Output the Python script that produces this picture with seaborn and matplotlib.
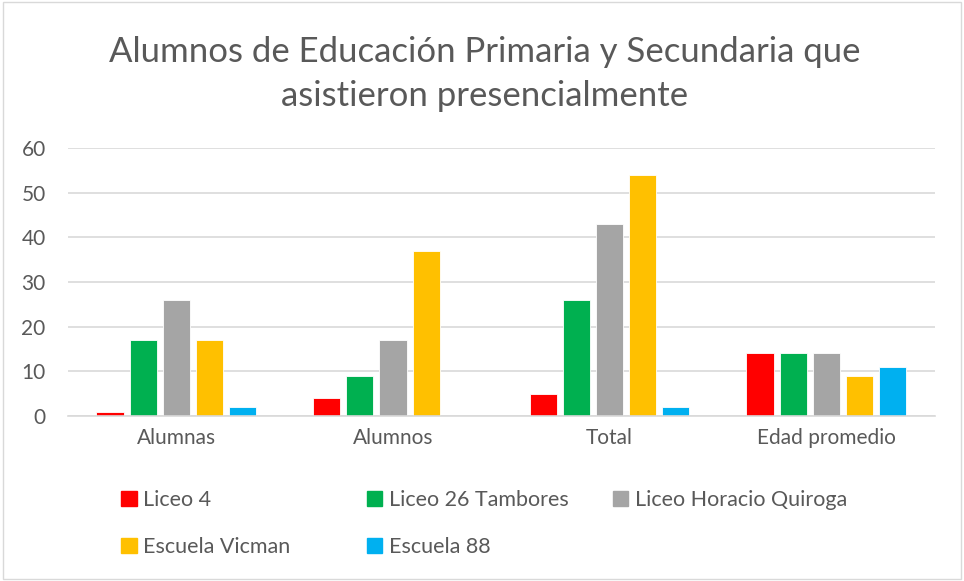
import pandas as pd
import matplotlib.pyplot as plt
import seaborn as sns
from matplotlib.patches import Rectangle

categorias = ['Alumnas', 'Alumnos', 'Total', 'Edad promedio']
escuelas = ['Liceo 4', 'Liceo 26 Tambores', 'Liceo Horacio Quiroga', 'Escuela Vicman', 'Escuela 88']
liceo_4 = [1, 4, 5, 14]
liceo_26 = [17, 9, 26, 14]
liceo_hq = [26, 17, 43, 14]
vicman = [17, 37, 54, 9]
escuela_88 = [2, 0, 2, 11]
colores = ['#ff0000', '#00b050', '#a5a5a5', '#ffc000', '#00b0f0']

series = [liceo_4, liceo_26, liceo_hq, vicman, escuela_88]
df = pd.DataFrame([
    {'categoria': c, 'escuela': e, 'valor': v}
    for e, vals in zip(escuelas, series)
    for c, v in zip(categorias, vals)
])

sns.set_style('white')
plt.rcParams['font.family'] = ['Lato', 'DejaVu Sans']
gris = '#595959'

fig = plt.figure(figsize=(9.64, 5.81), dpi=100)
ax = fig.add_axes([0.0705, 0.284, 0.899, 0.461])

sns.barplot(data=df, x='categoria', y='valor', hue='escuela', order=categorias,
            hue_order=escuelas, palette=colores, saturation=1, width=0.765, gap=0.18,
            edgecolor='white', linewidth=0.6, ax=ax, legend=False)

ax.set_ylim(0, 60)
ax.set_yticks(range(0, 61, 10))
ax.yaxis.grid(True, color='#d9d9d9', linewidth=1.2)
ax.set_axisbelow(True)
for s in ['top', 'right', 'left']:
    ax.spines[s].set_visible(False)
ax.spines['bottom'].set_color('#d9d9d9')
ax.spines['bottom'].set_linewidth(1.2)
ax.set_xlabel('')
ax.set_ylabel('')
ax.tick_params(axis='both', length=0, labelsize=15, colors=gris)
ax.tick_params(axis='x', pad=9)
ax.tick_params(axis='y', pad=16)

fig.text(0.503, 0.873, 'Alumnos de Educación Primaria y Secundaria que\nasistieron presencialmente',
         ha='center', va='center', fontsize=25, color=gris, linespacing=1.47)

# leyenda en filas de tres, columnas de igual ancho como en Excel
handles = [Rectangle((0, 0), 1, 1, color=c) for c in colores]
col_x = [0.126, 0.381, 0.636]
for j, x0 in enumerate(col_x):
    idx = [i for i in range(len(escuelas)) if i % 3 == j]
    fig.legend([handles[i] for i in idx], [escuelas[i] for i in idx], ncol=1,
               loc='upper left', bbox_to_anchor=(x0, 0.157), frameon=False,
               fontsize=15.5, labelcolor=gris, handlelength=0.7, handleheight=0.7,
               handletextpad=0.3, labelspacing=1.27, borderpad=0, borderaxespad=0)

fig.patches.append(Rectangle((0.003, 0.003), 0.994, 0.994, transform=fig.transFigure,
                             fill=False, edgecolor='#d9d9d9', linewidth=1))

fig.savefig('out.png', dpi=100, facecolor='white')
